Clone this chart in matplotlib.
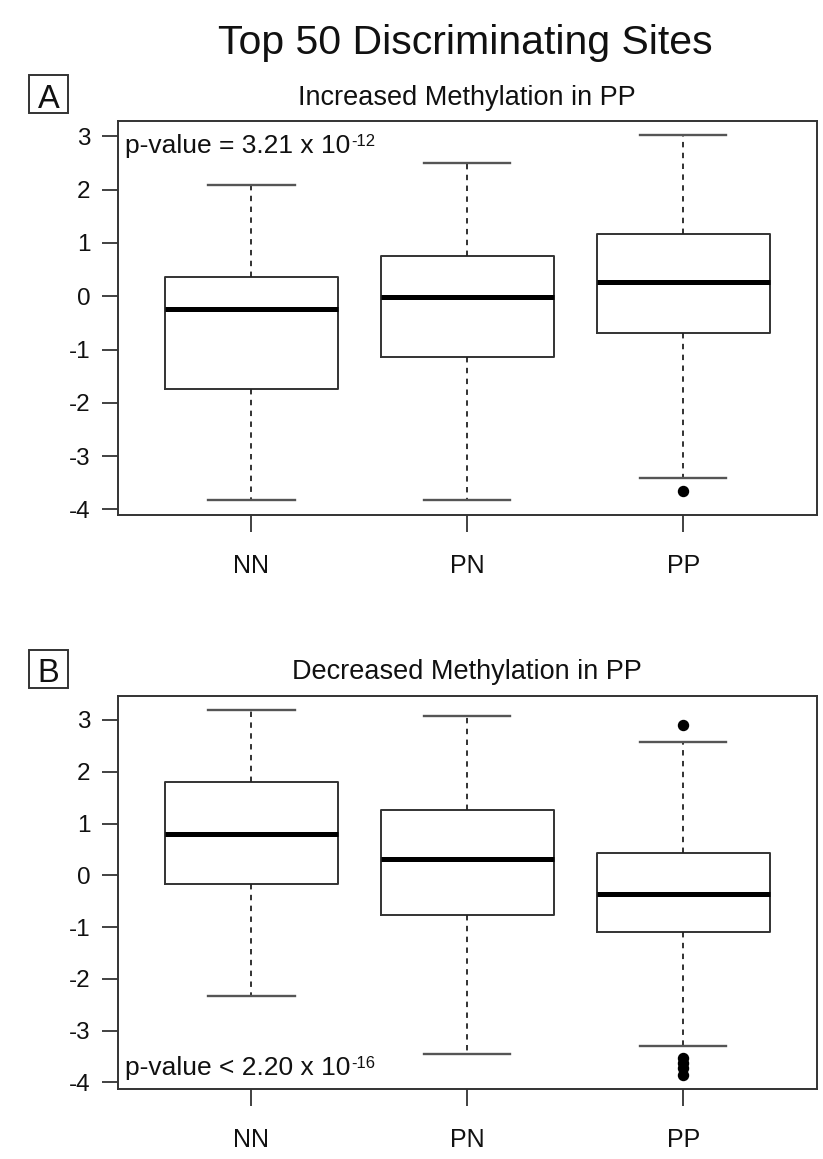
import matplotlib
matplotlib.use('Agg')
import matplotlib.pyplot as plt
from matplotlib.patches import Rectangle

plt.rcParams['font.family'] = ['Liberation Sans', 'DejaVu Sans']
plt.rcParams['axes.unicode_minus'] = False

# ---------------- data ----------------
groups = ['NN', 'PN', 'PP']
yticks = [-4, -3, -2, -1, 0, 1, 2, 3]

# Panel A: Increased Methylation in PP
inc_whislo = [-3.83, -3.83, -3.41]
inc_q1 = [-1.745, -1.14, -0.69]
inc_med = [-0.23, -0.01, 0.26]
inc_q3 = [0.36, 0.755, 1.17]
inc_whishi = [2.09, 2.50, 3.02]
inc_fliers = [[], [], [-3.66]]

# Panel B: Decreased Methylation in PP
dec_whislo = [-2.33, -3.45, -3.29]
dec_q1 = [-0.165, -0.77, -1.10]
dec_med = [0.795, 0.31, -0.36]
dec_q3 = [1.80, 1.26, 0.44]
dec_whishi = [3.19, 3.07, 2.57]
dec_fliers = [[], [], [2.91, -3.53, -3.63, -3.73, -3.85]]

title = 'Top 50 Discriminating Sites'
sub_a = 'Increased Methylation in PP'
sub_b = 'Decreased Methylation in PP'
pval_a = ('p-value = 3.21 x 10', '-12')
pval_b = ('p-value < 2.20 x 10', '-16')

# ---------------- layout helpers ----------------
W, H = 823, 1159
fig = plt.figure(figsize=(W / 100, H / 100), dpi=100)


def fx(px):
    return px / W


def fy(py):
    return 1 - py / H


EDGE = '#333333'


def panel(top_px, bottom_px, whislo, q1, med, q3, whishi, fliers):
    ax = fig.add_axes([fx(117.5), fy(bottom_px), fx(817) - fx(117.5),
                       fy(top_px) - fy(bottom_px)])
    stats = []
    for i, g in enumerate(groups):
        stats.append(dict(med=med[i], q1=q1[i], q3=q3[i], whislo=whislo[i],
                          whishi=whishi[i], fliers=fliers[i], label=g))
    ax.bxp(stats, positions=[1, 2, 3], widths=0.8, capwidths=0.4,
           showfliers=True,
           boxprops=dict(color=EDGE, lw=1.4),
           medianprops=dict(color='black', lw=3.6, solid_capstyle='butt'),
           whiskerprops=dict(color='#222222', lw=1.3, linestyle=(0, (3, 3))),
           capprops=dict(color='#555555', lw=1.7),
           flierprops=dict(marker='o', markerfacecolor='black',
                           markeredgecolor='black', markersize=7.2,
                           linestyle='none'))
    allv = [v for lst in (whislo, whishi) for v in lst] + \
        [v for f in fliers for v in f]
    lo, hi = min(allv), max(allv)
    pad = 0.04 * (hi - lo)
    ax.set_ylim(lo - pad, hi + pad)
    ax.set_xlim(0.38, 3.62)
    ax.set_yticks(yticks)
    ax.set_yticklabels([str(t) for t in yticks])
    ax.set_xticks([1, 2, 3])
    ax.set_xticklabels(groups)
    ax.tick_params(axis='y', length=11.5, width=1.3, pad=8, labelsize=17.5,
                   color=EDGE, labelcolor='#111111')
    ax.tick_params(axis='x', length=12, width=1.3, pad=16, labelsize=18,
                   color=EDGE, labelcolor='#111111')
    for s in ax.spines.values():
        s.set_color(EDGE)
        s.set_linewidth(1.4)
    return ax


axA = panel(120.7, 515, inc_whislo, inc_q1, inc_med, inc_q3, inc_whishi,
            inc_fliers)
axB = panel(695.5, 1089.3, dec_whislo, dec_q1, dec_med, dec_q3, dec_whishi,
            dec_fliers)


def pvalue(ax, yfrac, parts):
    t = ax.text(0.011, yfrac, parts[0], transform=ax.transAxes,
                fontsize=19, va='baseline', ha='left', color='#111111')
    ax.annotate(parts[1], xy=(1.0, 0.52), xycoords=t, xytext=(0.5, 0),
                textcoords='offset points', fontsize=12, va='baseline',
                ha='left', color='#111111')


pvalue(axA, 0.917, pval_a)
pvalue(axB, 0.036, pval_b)

# titles
fig.text(fx(465), fy(54), title, ha='center', va='baseline', fontsize=29.5,
         color='#111111')
fig.text(fx(467), fy(105), sub_a, ha='center', va='baseline', fontsize=19.5,
         color='#111111')
fig.text(fx(467), fy(679), sub_b, ha='center', va='baseline', fontsize=19.5,
         color='#111111')

# panel letters in boxes
for letter, (y0, y1, base) in (('A', (75, 113, 108.3)),
                               ('B', (650, 688, 682))):
    fig.add_artist(Rectangle((fx(29), fy(y1)), fx(68) - fx(29),
                             fy(y0) - fy(y1), transform=fig.transFigure,
                             fill=False, edgecolor=EDGE, lw=1.4))
    fig.text(fx(48.5), fy(base), letter, ha='center', va='baseline',
             fontsize=23.5, color='#111111')

fig.savefig('out.png', dpi=100)
